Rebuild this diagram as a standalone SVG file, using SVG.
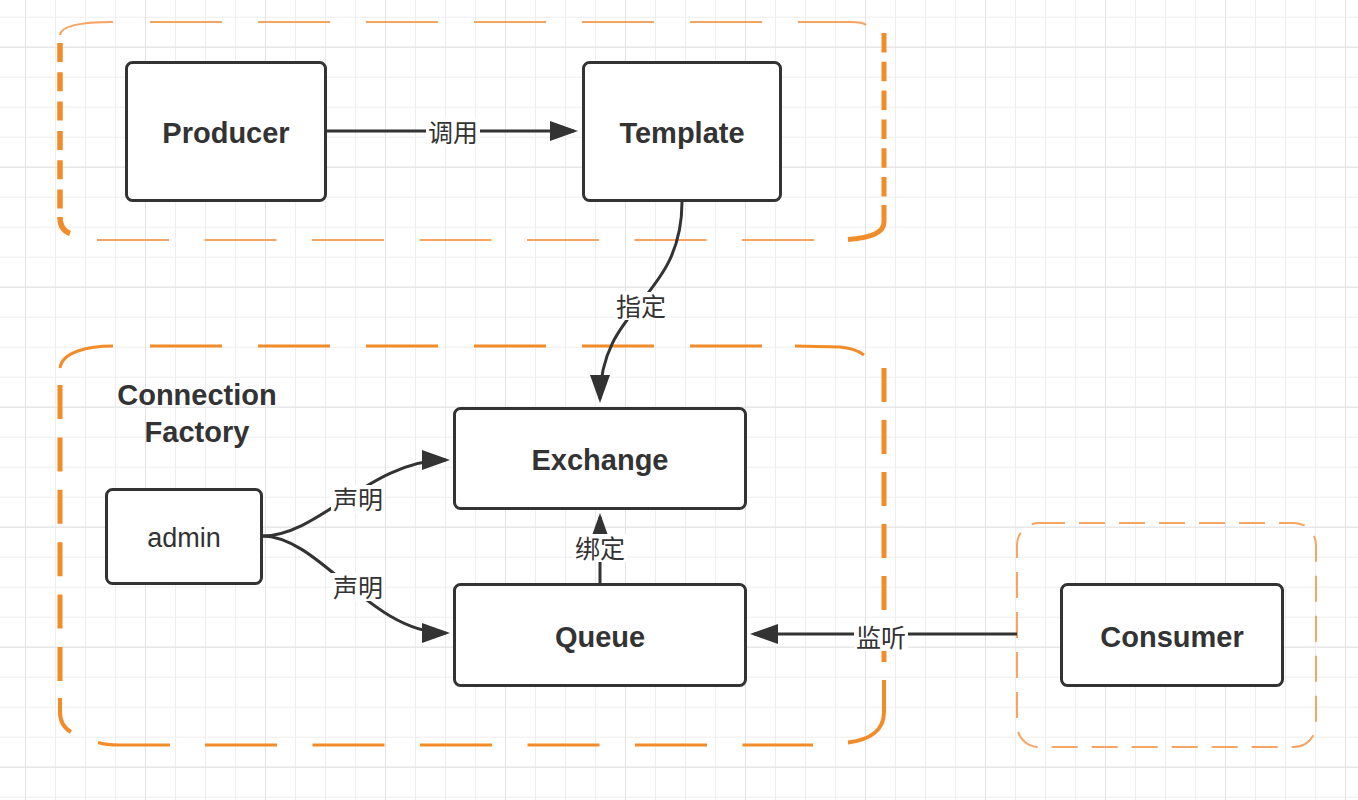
<svg xmlns="http://www.w3.org/2000/svg" width="1358" height="800" viewBox="0 0 1358 800">
<defs>
<pattern id="minor" x="25" y="16.7" width="30" height="30" patternUnits="userSpaceOnUse"><path d="M0.5,0 V30 M0,0.5 H30" stroke="#eeeeee" stroke-width="1" fill="none"/></pattern>
<pattern id="major" x="25" y="46.7" width="120" height="120" patternUnits="userSpaceOnUse"><path d="M0.5,0 V120 M0,0.5 H120" stroke="#e3e3e3" stroke-width="1" fill="none"/></pattern>
<marker id="arr" markerUnits="userSpaceOnUse" markerWidth="28" markerHeight="20" refX="24" refY="10" orient="auto"><path d="M0,0 L28,10 L0,20 z" fill="#333"/></marker>
<style>
.node rect{fill:#fff;stroke:#333;stroke-width:3}
.nt{font-family:"Liberation Sans",Arial,sans-serif;font-weight:bold;font-size:29px;fill:#333;text-anchor:middle}
.st{font-family:"Liberation Sans",Arial,sans-serif;font-size:27px;fill:#333;text-anchor:middle}
.lb{font-family:"Noto Sans CJK SC",sans-serif;font-size:25px;fill:#333;text-anchor:middle}
.lbg{fill:#fff}
.edge{fill:none;stroke:#333;stroke-width:3;marker-end:url(#arr)}
.o{fill:none;stroke:#f28c28;stroke-linecap:butt}
.ol{fill:none;stroke:#f5a462}
</style>
</defs>
<rect width="1358" height="800" fill="#fff"/>
<rect width="1358" height="800" fill="url(#minor)"/>
<rect width="1358" height="800" fill="url(#major)"/>

<g id="group-producer">
<path class="ol" stroke-width="2.2" d="M60,35 C61,26 80,22 113,22"/>
<path class="ol" stroke-width="2.2" stroke-dasharray="72 36" d="M150,22 L762,22"/>
<path class="ol" stroke-width="2.2" d="M798,22 L850,22 C858,22 864,23 866,25"/>
<path class="o" stroke-width="5" stroke-dasharray="19.5 9.3" d="M884,33 L884,197"/>
<path class="o" stroke-width="5" d="M884,205 L884,222 C884,233 870,238 848,239.5"/>
<path class="ol" stroke-width="1.8" stroke="#f8b27c" stroke-dasharray="72 35.5" d="M97,240 L814,240"/>
<path class="o" stroke-width="5.5" stroke-dasharray="19 10.3" d="M60,43 L60,209"/>
<path class="o" stroke-width="5.5" d="M60,217 C60,226 63,231 70,233.5"/>
</g>

<g id="group-connection-factory">
<path class="o" stroke-width="3" d="M60,368 C62,352 88,346 113,346"/>
<path class="o" stroke-width="3" stroke-dasharray="72 36" d="M150,346 L762,346"/>
<path class="o" stroke-width="3" d="M795,346 L840,347 C852,348 860,352 864,355"/>
<path class="o" stroke-width="5" stroke-dasharray="34 18" d="M884,368 L884,662"/>
<path class="o" stroke-width="4" d="M884,680 L884,712 C884,730 870,740 848,742.5"/>
<path class="o" stroke-width="3" d="M98,742.5 C104,744.5 110,745 120,745 L170,745"/>
<path class="o" stroke-width="3" stroke-dasharray="72 35.5" d="M205,745 L813,745"/>
<path class="o" stroke-width="5" stroke-dasharray="34 18.4" d="M60,385 L60,681"/>
<path class="o" stroke-width="4" d="M60,698 L60,712 C60,722 64,728 71,732"/>
<text class="nt" x="197" y="405">Connection</text>
<text class="nt" x="197" y="442">Factory</text>
</g>

<g id="group-consumer">
<rect x="1017" y="523" width="299" height="224" rx="22" fill="none" stroke="#f6a564" stroke-width="2" stroke-dasharray="26 14"/>
</g>

<g id="connectors">
<path id="e-call" class="edge" d="M327,131 L574,131"/>
<path id="e-specify" class="edge" d="M682,202 C682,300 600,305 600,399"/>
<path id="e-decl-ex" class="edge" d="M262,536 C320,536 370,460 446,460"/>
<path id="e-decl-q" class="edge" d="M262,536 C320,536 370,633 446,633"/>
<path id="e-bind" class="edge" d="M600,583 L600,517"/>
<path id="e-listen" class="edge" d="M1017,634 L754,634"/>
<rect class="lbg" x="426" y="118" width="54" height="28"/>
<text class="lb" x="453" y="141.5">调用</text>
<rect class="lbg" x="614" y="292" width="54" height="28"/>
<text class="lb" x="641" y="315.5">指定</text>
<rect class="lbg" x="331" y="485" width="54" height="28"/>
<text class="lb" x="358" y="508.5">声明</text>
<rect class="lbg" x="331" y="573" width="54" height="28"/>
<text class="lb" x="358" y="596.5">声明</text>
<rect class="lbg" x="573" y="534" width="54" height="28"/>
<text class="lb" x="600" y="557.5">绑定</text>
<rect class="lbg" x="854" y="623" width="54" height="28"/>
<text class="lb" x="881" y="646.5">监听</text>
</g>

<g id="producer" class="node"><rect x="126.5" y="62.5" width="199" height="138" rx="6"/><text class="nt" x="226" y="143">Producer</text></g>
<g id="template" class="node"><rect x="583.5" y="62.5" width="197" height="138" rx="6"/><text class="nt" x="682" y="143">Template</text></g>
<g id="exchange" class="node"><rect x="454.5" y="408.5" width="291" height="100" rx="6"/><text class="nt" x="600" y="470">Exchange</text></g>
<g id="queue" class="node"><rect x="454.5" y="584.5" width="291" height="101" rx="6"/><text class="nt" x="600" y="647">Queue</text></g>
<g id="consumer" class="node"><rect x="1061.5" y="584.5" width="221" height="101" rx="6"/><text class="nt" x="1172" y="647">Consumer</text></g>
<g id="admin" class="node"><rect x="106.5" y="489.5" width="155" height="94" rx="6"/><text class="st" x="184" y="547">admin</text></g>
</svg>
